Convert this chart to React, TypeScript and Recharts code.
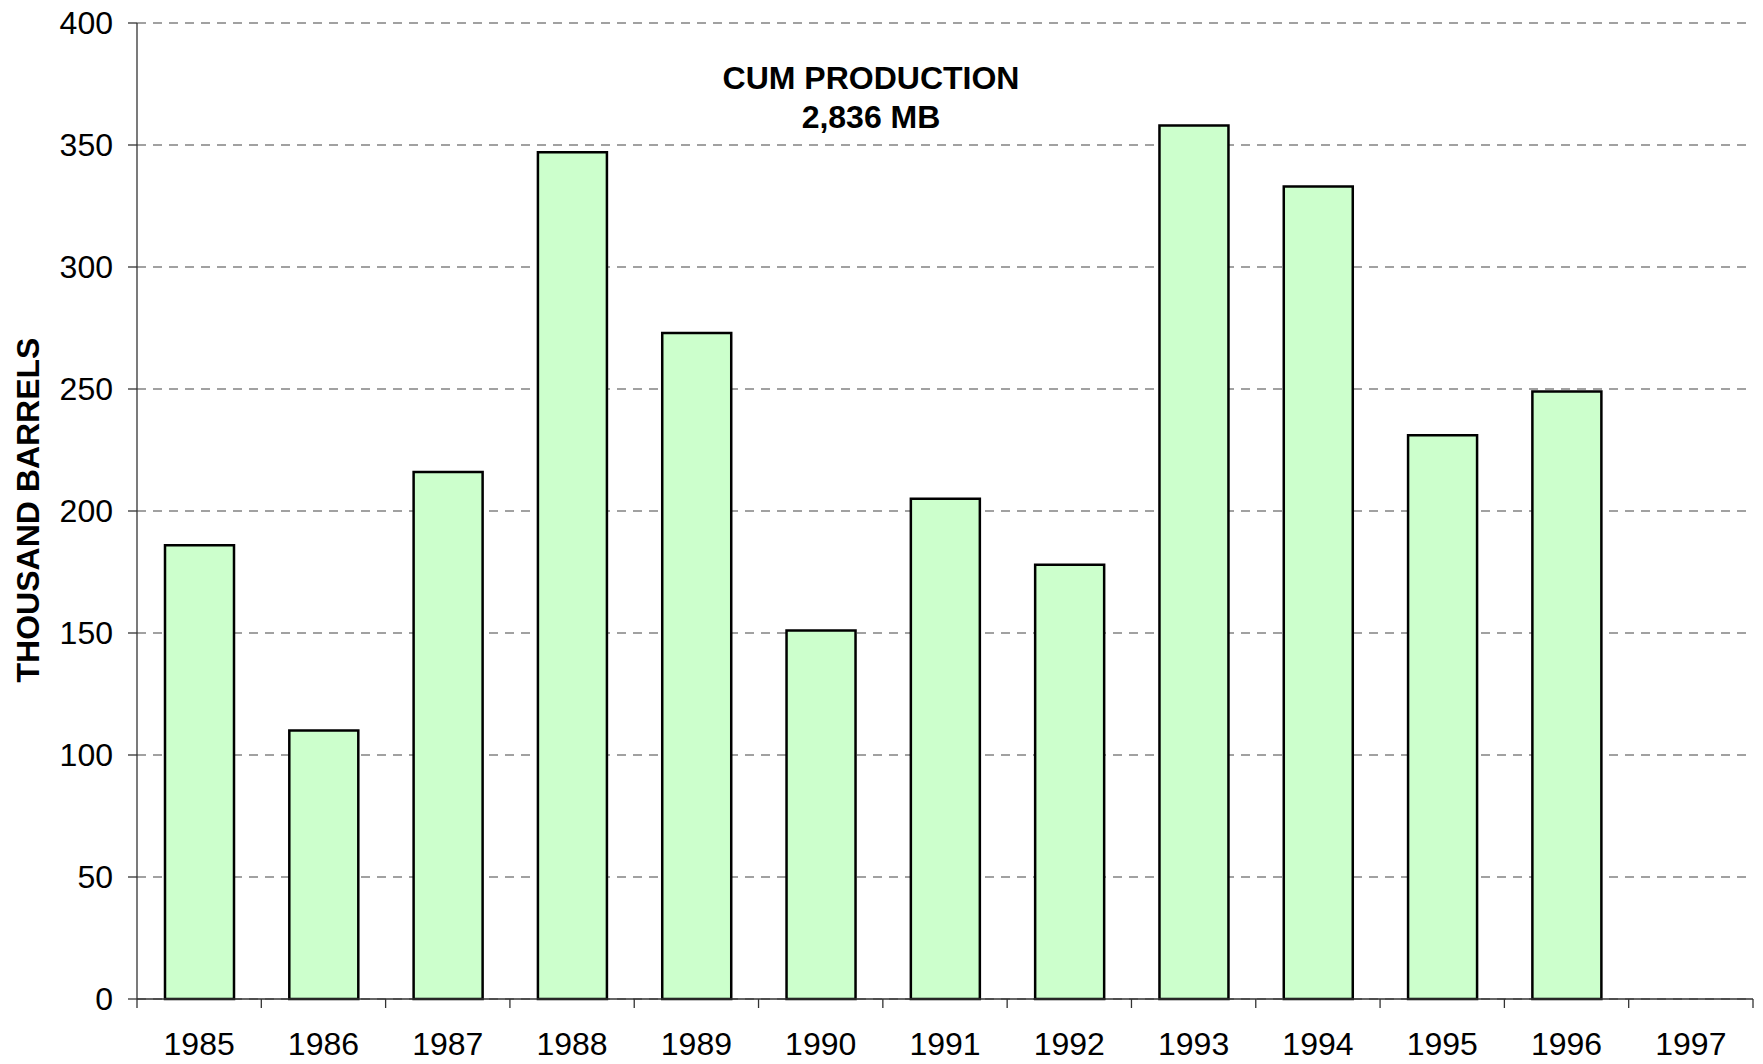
import React from 'react';
import { BarChart, Bar, XAxis, YAxis, CartesianGrid } from 'recharts';

const years = ['1985', '1986', '1987', '1988', '1989', '1990', '1991', '1992', '1993', '1994', '1995', '1996', '1997'];
const production: (number | null)[] = [186, 110, 216, 347, 273, 151, 205, 178, 358, 333, 231, 249, null];
const yTicks = [0, 50, 100, 150, 200, 250, 300, 350, 400];
const titleLines = ['CUM PRODUCTION', '2,836 MB'];
const yAxisTitle = 'THOUSAND BARRELS';

const data = years.map((year, i) => ({ year, value: production[i] }));

const W = 1763;
const H = 1064;
const FONT = 'Liberation Sans, Arial, Helvetica, sans-serif';
const FS = 32;
const TICK_SIZE = 9;
const TICK_MARGIN = 24;
const AXIS_COLOR = '#333333';

const XTick = (props: any) => {
  const { x, y, payload, index, visibleTicksCount } = props;
  const half = payload && typeof payload.offset === 'number' && payload.offset > 0 ? payload.offset : 1616 / years.length / 2;
  const axisY = y - TICK_MARGIN - TICK_SIZE;
  const isLast = index === (visibleTicksCount ?? years.length) - 1;
  return (
    <g>
      <line x1={x - half} x2={x - half} y1={axisY} y2={axisY + TICK_SIZE} stroke={AXIS_COLOR} strokeWidth={1.3} />
      {isLast && (
        <line x1={x + half} x2={x + half} y1={axisY} y2={axisY + TICK_SIZE} stroke={AXIS_COLOR} strokeWidth={1.3} />
      )}
      <text x={x} y={y} dy="0.71em" textAnchor="middle" fontSize={FS} fontFamily={FONT} fill="#000">
        {payload.value}
      </text>
    </g>
  );
};

export default function App() {
  return (
    <div style={{ position: 'absolute', left: 0, top: 0, width: W, height: H, background: '#fff' }}>
      <BarChart
        width={W}
        height={H}
        data={data}
        margin={{ top: 23, right: 10, bottom: 0, left: 0 }}
        barSize={69}
      >
        <CartesianGrid
          vertical={false}
          horizontal={true}
          stroke="#444444"
          strokeDasharray="9 7"
          strokeWidth={1.2}
        />
        <XAxis
          dataKey="year"
          height={65}
          tickSize={TICK_SIZE}
          tickMargin={TICK_MARGIN}
          tickLine={false}
          axisLine={{ stroke: AXIS_COLOR, strokeWidth: 1.3 }}
          tick={<XTick />}
          interval={0}
        />
        <YAxis
          width={137}
          domain={[0, 400]}
          ticks={yTicks}
          interval={0}
          tickSize={TICK_SIZE}
          tickMargin={15}
          tickLine={{ stroke: AXIS_COLOR, strokeWidth: 1.3 }}
          axisLine={{ stroke: AXIS_COLOR, strokeWidth: 1.3 }}
          tick={{ fontSize: FS, fontFamily: FONT, fill: '#000' }}
        />
        <Bar dataKey="value" fill="#CCFFCC" stroke="#000" strokeWidth={2.5} isAnimationActive={false} />
      </BarChart>
      <svg
        width={W}
        height={H}
        style={{ position: 'absolute', left: 0, top: 0, pointerEvents: 'none' }}
      >
        {titleLines.map((line, i) => (
          <text
            key={line}
            x={871}
            y={89 + i * 39}
            textAnchor="middle"
            fontSize={FS}
            fontWeight="bold"
            fontFamily={FONT}
            fill="#000"
          >
            {line}
          </text>
        ))}
        <text
          x={28}
          y={510}
          transform="rotate(-90 28 510)"
          textAnchor="middle"
          dominantBaseline="central"
          fontSize={FS}
          fontWeight="bold"
          fontFamily={FONT}
          fill="#000"
        >
          {yAxisTitle}
        </text>
      </svg>
    </div>
  );
}
